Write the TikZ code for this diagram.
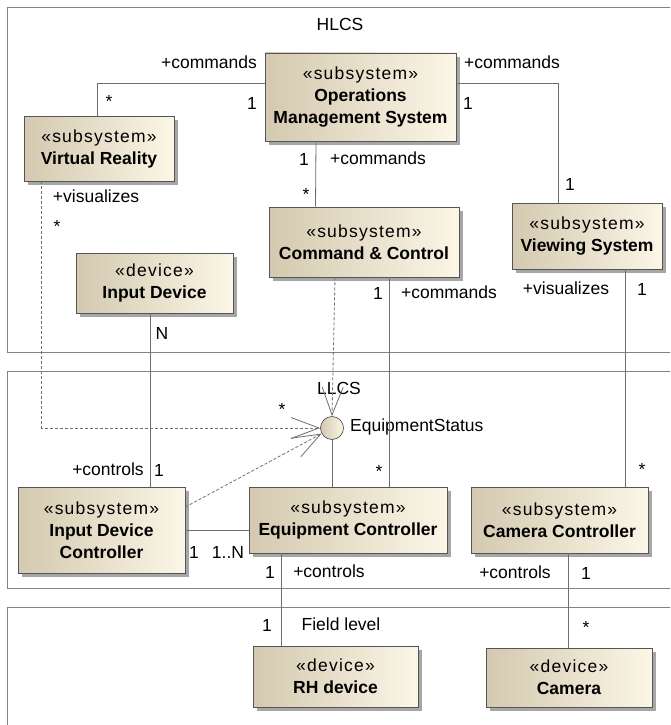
\documentclass[tikz,border=0pt]{standalone}
\usepackage{fontspec}
\setmainfont{Liberation Sans}
\usetikzlibrary{shadows,arrows.meta,calc}
\definecolor{boxL}{RGB}{212,201,176}
\definecolor{boxR}{RGB}{251,246,230}
\definecolor{edge}{RGB}{85,85,85}
\definecolor{conn}{RGB}{110,110,110}
\definecolor{framec}{RGB}{130,130,130}
\newcommand\stereo[1]{{\addfontfeature{LetterSpace=7}«#1»}}
\begin{document}
\begin{tikzpicture}[x=1pt,y=-1pt,
  font=\fontsize{17.5}{22}\selectfont,
  box/.style={draw=edge, line width=0.8pt, left color=boxL, right color=boxR,
    inner sep=0pt, align=center,
    drop shadow={shadow xshift=4pt, shadow yshift=-4pt, fill=black!35, opacity=1}},
  iface/.style={circle, draw=edge, line width=0.7pt, left color=boxL, right color=boxR, inner sep=0pt, minimum size=23pt},
  frame/.style={draw=framec, line width=0.9pt},
  assoc/.style={draw=conn, line width=0.8pt},
  dep/.style={draw=conn, line width=0.8pt, dash pattern=on 3pt off 2pt,
    -{Straight Barb[length=28pt,width=21pt,line width=0.8pt]}},
  lbl/.style={inner sep=0pt, anchor=base}]
\clip (0,0) rectangle (670,725);
\fill[white] (0,0) rectangle (670,725);

% package frames
\draw[frame] (7,7) rectangle (700,352);
\draw[frame] (7,371) rectangle (700,588);
\draw[frame] (7,607) rectangle (700,740);
\node[lbl] (hlcs) at (340,31) {HLCS};
\node[lbl] (llcs) at (339,394) {LLCS};
\node[lbl] (fl) at (341,630) {Field level};

% boxes
\node[box, minimum width=191pt, minimum height=88pt] (oms) at (360.5,97)
  {\stereo{subsystem}\\\textbf{Operations}\\\textbf{Management System}};
\node[box, minimum width=150pt, minimum height=65pt] (vr) at (99,148.5)
  {\stereo{subsystem}\\\textbf{Virtual Reality}};
\node[box, minimum width=190pt, minimum height=70pt] (cc) at (364,242)
  {\stereo{subsystem}\\\textbf{Command \& Control}};
\node[box, minimum width=150pt, minimum height=66pt] (vs) at (587,236)
  {\stereo{subsystem}\\\textbf{Viewing System}};
\node[box, minimum width=157pt, minimum height=60pt] (id) at (154.5,283)
  {\stereo{device}\\\textbf{Input Device}};
\node[box, minimum width=167pt, minimum height=86pt] (idc) at (101.5,530)
  {\stereo{subsystem}\\\textbf{Input Device}\\\textbf{Controller}};
\node[box, minimum width=198pt, minimum height=66pt] (ec) at (348,520)
  {\stereo{subsystem}\\\textbf{Equipment Controller}};
\node[box, minimum width=177pt, minimum height=66pt] (camc) at (559.5,520)
  {\stereo{subsystem}\\\textbf{Camera Controller}};
\node[box, minimum width=165pt, minimum height=61pt] (rh) at (335.5,676.5)
  {\stereo{device}\\\textbf{RH device}};
\node[box, minimum width=166pt, minimum height=59pt] (cam) at (569,677.5)
  {\stereo{device}\\\textbf{Camera}};

% interface
\node[iface] (es) at (332,428) {};
\node[lbl, anchor=base west] (esl) at (350,431) {EquipmentStatus};

% associations
\draw[assoc] ([yshift=14pt]oms.west) -| ([xshift=-2pt]vr.north);
\draw[assoc] ([yshift=14pt]oms.east) -| ([xshift=-29pt]vs.north);
\draw[assoc] ([xshift=-44.5pt]oms.south) -- ([xshift=-48.5pt]cc.north);
\draw[assoc] ([xshift=25pt]cc.south) -- ([xshift=41pt]ec.north);
\draw[assoc] ([xshift=-4.5pt]id.south) -- ([xshift=48.5pt]idc.north);
\draw[assoc] (idc.east) -- (idc.east -| ec.west);
\draw[assoc] (es.south) -- (es.south |- ec.north);
\draw[assoc] ([xshift=38pt]vs.south) -- ([xshift=65.5pt]camc.north);
\draw[assoc] ([xshift=-67pt]ec.south) -- ([xshift=-54.5pt]rh.north);
\draw[assoc] ([xshift=8.5pt]camc.south) -- ([xshift=-1pt]cam.north);

% dependencies
\draw[dep] ([xshift=-57.5pt]vr.south) |- (es.west);
\draw[dep] ([xshift=-29pt]cc.south) -- (es.north);
\draw[dep] ([yshift=23pt]idc.east) -- (es);

% labels
\node[lbl] (a1) at (209,68) {+commands};
\node[lbl] (a2) at (512,68) {+commands};
\node[lbl] (a3) at (109,107) {*};
\node[lbl] (a4) at (252,109) {1};
\node[lbl] (a5) at (468,109) {1};
\node[lbl] (a6) at (304,165) {1};
\node[lbl] (a7) at (378,164) {+commands};
\node[lbl] (a8) at (570,190) {1};
\node[lbl] (a9) at (96,202) {+visualizes};
\node[lbl] (a10) at (57,232) {*};
\node[lbl] (a11) at (306,200) {*};
\node[lbl] (a12) at (378,299) {1};
\node[lbl] (a13) at (449,298) {+commands};
\node[lbl] (a14) at (566,294) {+visualizes};
\node[lbl] (a15) at (642,295) {1};
\node[lbl] (a16) at (162,339) {N};
\node[lbl] (a17) at (282,415) {*};
\node[lbl] (a18) at (108,475) {+controls};
\node[lbl] (a19) at (159,476) {1};
\node[lbl] (a20) at (379,477) {*};
\node[lbl] (a21) at (642,475) {*};
\node[lbl] (a22) at (194,558) {1};
\node[lbl] (a23) at (228,558) {1..N};
\node[lbl] (a24) at (270,578) {1};
\node[lbl] (a25) at (329,577) {+controls};
\node[lbl] (a26) at (515,578) {+controls};
\node[lbl] (a27) at (586,579) {1};
\node[lbl] (a28) at (267,631) {1};
\node[lbl] (a29) at (586,633) {*};
\end{tikzpicture}
\end{document}
